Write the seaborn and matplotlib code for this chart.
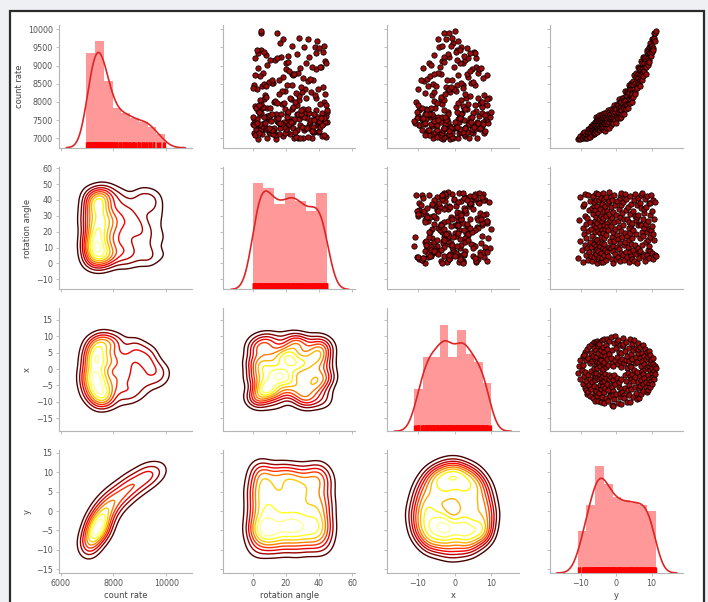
import numpy as np
import pandas as pd
import matplotlib
matplotlib.use("Agg")
import matplotlib.pyplot as plt
from matplotlib.patches import Rectangle
import seaborn as sns

# ---- measurements -------------------------------------------------------
x = [
    -1.2, 0.9, -3.1, 2.8, -0.3, -4.6, 3.9, 1.2, -2.2, -5.9, 5.1, -0.8, 2.6, -3.7, 4.4, -6.3,
    -7.5, 6.2, -1.9, -7.0, 3.3, -4.8, 7.0, -8.2, 1.7, -2.9, 5.0, -6.1, -0.6, 2.5, -3.8, 7.6,
    -8.9, 4.1, -5.3, 0.2, -1.5, 6.4, -7.2, 3.0, -2.5, 8.1,
    -9.6, -3.4, 1.1, 5.7, -6.7, -1.3, 3.6, 8.3, 8.6, 0.3, -8.1, 2.2, -2.6, 6.9, -5.6, 4.8,
    7.9, -9.8, 1.8, -3.1, 7.7, -7.3, 3.2, -1.9, -4.9, 0.9, 5.9, -10.1, -2.8, 2.7, -6.0, 8.9,
    -0.9, 4.3, -8.6, -3.9, 1.5, 6.6, -5.2, -2.0, 0.0,
    -10.4, -7.1, -3.6, 2.0, 5.3, 9.2, -1.4, -5.8, 3.9, -8.9, 0.6, 7.4, -2.7, -4.4, 2.9, 9.0,
    6.1, -9.7, -6.5, 1.3, -3.0, 8.6, 4.6, -1.8, -7.9, -8.1, -4.9, 3.4, -2.3, 9.7, -10.8, 5.8,
    -5.5, 1.8,
    -11.1, -6.8, -3.3, 0.8, -8.0, 7.9, -9.0, -1.7, 2.6, -4.6, 10.1, 6.5, -7.7, 8.3, 3.7, -2.6,
    -10.3, 8.8, 1.4, -5.4, 5.1, -3.8, -8.5, 2.3, -7.4, 7.2, -6.1, 0.5, 4.8,
    -10.6, -2.9, 3.1, -7.0, 6.9, 7.5, 9.5, -7.9, 1.9, -8.8, -1.9, 5.5, -5.7, 2.8, 8.1, -3.5,
    0.3, -9.9, 4.1, -6.4, -1.2, 6.3, 2.4, -4.8, -8.0, 9.0, -2.2, 1.0,
    -9.9, -3.0, 4.5, -6.2, 0.7, 7.6, -1.6, 2.9, -8.4, -3.6, 5.7, -0.2, 8.8, -5.5, 1.8, -2.5,
    3.8, -7.3, 6.5, -0.9, -9.1, 2.2, -3.8, 5.0, 6.0, -5.9, 7.9,
    -8.7, -2.1, 3.4, -5.2, 6.8, 0.9, -3.4, -7.6, 4.9, -0.7, 2.3, -4.6, 7.3, -1.5, -6.8, 1.6,
    4.1, -2.8, -0.1, 6.0, -5.6, 2.9, -3.9, 0.6, -7.1, 5.2,
    -6.4, -1.8, 3.7, -4.2, 0.8, 5.6, -2.9, 1.9, -5.5, -0.4, 4.3, -3.5, 2.6, -1.1, 0.4, -4.4,
    3.3, -2.3, 1.5, -0.7, -3.0, 0.9, -1.6, 0.2,
]

y = [
    -10.9, -10.6, -10.2, -10.1, -9.8, -9.5, -9.4, -9.3, -9.1, -8.9, -8.8, -8.7, -8.6, -8.6, -9.0, -8.55,
    -8.3, -8.2, -8.1, -8.0, -7.9, -7.8, -7.6, -7.4, -7.5, -7.3, -7.2, -7.1, -7.0, -6.9, -6.8, -6.7,
    -6.6, -6.5, -6.4, -6.4, -6.3, -6.2, -6.1, -6.1, -6.05, -6.3,
    -5.9, -5.9, -5.8, -5.8, -5.7, -5.7, -5.6, -5.6, -5.5, -5.5, -5.4, -5.3, -5.3, -5.2, -5.1, -5.1,
    -5.0, -5.0, -4.9, -4.9, -4.8, -4.8, -4.7, -4.6, -4.6, -4.5, -4.4, -4.4, -4.3, -4.3, -4.2, -4.1,
    -4.1, -4.0, -3.9, -3.9, -3.8, -3.8, -3.7, -3.7, -3.6,
    -3.5, -3.5, -3.4, -3.4, -3.3, -3.3, -3.2, -3.1, -3.1, -3.0, -3.0, -2.9, -2.8, -2.7, -2.6, -2.5,
    -2.5, -2.4, -2.3, -2.2, -2.1, -2.0, -1.9, -1.9, -1.8, -1.7, -1.6, -1.5, -1.4, -1.4, -1.3, -1.2,
    -1.2, -1.1,
    -0.9, -1.0, -0.9, -0.8, -0.8, -0.7, -0.5, -0.5, -0.4, -0.3, -0.2, -0.1, 0.0, 0.1, 0.2, 0.3,
    0.4, 0.5, 0.6, 0.7, 0.8, 0.9, 1.0, 1.0, 1.1, 1.2, 1.3, 1.3, 1.35,
    1.5, 1.5, 1.6, 1.7, 1.8, 1.9, 2.0, 2.1, 2.2, 2.3, 2.4, 2.5, 2.6, 2.7, 2.8, 2.9,
    3.0, 3.1, 3.2, 3.3, 3.4, 3.5, 3.6, 3.6, 3.7, 3.8, 3.8, 3.85,
    4.0, 4.1, 4.1, 4.2, 4.3, 4.4, 4.5, 4.6, 4.7, 4.8, 4.9, 5.0, 5.1, 5.2, 5.3, 5.4,
    5.5, 5.6, 5.7, 5.8, 5.9, 6.0, 6.1, 6.2, 6.3, 6.35, 6.3,
    6.5, 6.6, 6.6, 6.7, 6.8, 6.9, 7.0, 7.1, 7.2, 7.3, 7.4, 7.5, 7.5, 7.6, 7.7, 7.8,
    7.9, 8.0, 8.1, 8.2, 8.3, 8.4, 8.5, 8.6, 8.7, 8.8,
    9.0, 9.0, 9.1, 9.2, 9.3, 9.3, 9.4, 9.5, 9.6, 9.6, 9.7, 9.8, 9.9, 10.0, 10.1, 10.2,
    10.3, 10.4, 10.5, 10.6, 10.8, 10.9, 11.1, 11.3,
]

rotation_angle = [
    3.2, 27.5, 14.1, 41.8, 8.7, 22.4, 35.9, 0.6, 18.3, 30.2,
    11.5, 44.1, 5.4, 24.8, 37.2, 16.0, 9.9, 28.7, 2.1, 43.0,
    20.6, 33.4, 7.3, 13.7, 39.5, 26.1, 4.8, 21.9, 10.4, 35.0,
    1.5, 17.2, 30.9, 42.6, 36.2, 24.1, 12.3, 38.8, 27.0, 8.1,
    15.4, 3.9, 33.9, 19.8, 44.7, 11.0, 29.3, 5.7, 22.9, 40.3,
    9.2, 36.4, 0.3, 25.5, 14.8, 31.6, 7.8, 20.2, 43.6, 2.7,
    27.9, 12.9, 39.9, 4.2, 18.9, 34.5, 10.8, 23.3, 1.0, 30.0,
    16.7, 41.1, 6.7, 26.6, 13.1, 37.7, 3.5, 21.3, 9.4, 44.5,
    28.4, 0.9, 19.1, 32.8, 11.9, 24.5, 5.1, 40.8, 15.8, 36.1,
    8.4, 22.0, 2.4, 29.8, 42.0, 17.7, 7.0, 33.0, 25.2, 23.1,
    38.2, 4.5, 20.9, 10.1, 31.2, 39.4, 44.9, 14.4, 27.3, 41.6,
    23.7, 35.5, 9.7, 16.4, 3.0, 40.0, 28.9, 11.2, 19.6, 0.1,
    32.4, 7.6, 25.9, 43.3, 13.9, 5.9, 37.0, 21.6, 2.9, 30.6,
    10.6, 18.0, 39.2, 4.0, 26.9, 15.1, 8.9, 34.0, 23.0, 41.5,
    1.2, 29.1, 12.6, 36.8, 6.5, 20.5, 42.9, 44.6, 31.9, 16.9,
    5.0, 24.3, 38.5, 11.7, 27.7, 2.2, 19.4, 44.0, 13.4, 33.6,
    7.4, 40.6, 17.5, 3.7, 28.1, 10.3, 35.3, 22.6, 0.8, 14.6,
    26.3, 6.9, 42.3, 19.0, 31.4, 4.7, 12.2, 37.5, 24.0, 25.3,
    2.6, 15.7, 33.2, 8.2, 21.0, 39.7, 1.4, 29.6, 11.4, 43.8,
    18.6, 5.6, 27.1, 29.4, 36.6, 0.4, 23.9, 10.0, 41.2, 7.1,
    30.4, 3.4, 16.2, 25.0, 8.0, 38.0, 24.4, 43.4, 34.8, 20.0,
    11.8, 44.3, 6.1, 28.3, 17.0, 4.4, 32.0, 22.2, 34.3, 40.9,
    1.7, 24.7, 13.6, 35.7, 5.3, 19.9, 42.5, 8.5, 26.5, 15.0,
    37.9, 10.7, 3.1, 21.5, 30.8, 7.9, 16.6, 38.1, 43.1, 21.2,
    23.5, 6.6, 33.3, 40.2, 18.5, 2.8, 28.0, 14.9, 39.0, 5.2,
    4.9,
]

count_rate = [
    6985, 7020, 6980, 7065, 7005, 7105, 7015, 7140, 7065, 7020, 7155, 7040, 7110, 7015, 7175, 7105,
    7160, 7020, 7260, 7090, 7175, 7025, 7265, 7100, 7165, 7045, 7255, 7325, 7140, 7245, 7090, 7330,
    7215, 7405, 7170, 7290, 7115, 7375, 7220, 7275, 7445, 7150,
    7370, 7155, 7455, 7255, 7575, 7325, 7435, 7200, 7520, 7305, 7380, 7180, 7465, 7290, 7575, 7250,
    7445, 7355, 7525, 7220, 7405, 7650, 7300, 7455, 7215, 7530, 7365, 7600, 7295, 7505, 7425, 7665,
    7275, 7550, 7380, 7480, 7250, 7620, 7360, 7520, 7445,
    7545, 7235, 7455, 7685, 7320, 7430, 7210, 7615, 7385, 7535, 7305, 7685, 7390, 7590, 7285, 7535,
    7455, 7775, 7380, 7660, 7275, 7595, 7450, 7730, 7530, 7655, 7375, 7810, 7505, 7585, 7425, 7740,
    7480, 7670,
    7475, 7815, 7585, 7730, 7410, 7910, 7555, 7675, 7820, 7500, 7715, 7425, 7800, 7630, 7950, 7585,
    7725, 7915, 7555, 7825, 7700, 8080, 7560, 7880, 7765, 8005, 7680, 7860, 7575,
    7995, 7765, 8120, 7680, 7935, 7855, 8110, 7665, 8050, 7835, 8290, 7915, 8020, 7795, 8200, 7945,
    8300, 7915, 8155, 7830, 8270, 8115, 8460, 7980, 8260, 8085, 8405, 7965,
    8350, 8050, 8530, 8205, 8455, 8000, 8360, 8210, 8575, 8135, 8480, 8370, 8750, 8280, 8525, 8215,
    8695, 8445, 8795, 8420, 8610, 8380, 8760, 8550, 8960, 8490, 8670,
    8930, 8600, 8770, 8450, 8920, 8730, 9130, 8630, 8920, 8605, 9085, 8805, 8925, 9225, 8725, 9080,
    8840, 9250, 8970, 9205, 8765, 9160, 8950, 9420, 9075, 9365,
    9025, 9330, 9220, 9500, 9150, 9350, 9090, 9515, 9280, 9635, 9345, 9550, 9270, 9550, 9380, 9725,
    9485, 9745, 9425, 9760, 9890, 9680, 9910, 9960,
]

variables = ["count rate", "rotation angle", "x", "y"]

df = pd.DataFrame({
    "count rate": count_rate,
    "rotation angle": rotation_angle,
    "x": x,
    "y": y,
})

# ---- style --------------------------------------------------------------
sns.set_style("ticks")
plt.rcParams.update({
    "font.family": ["DejaVu Sans"],
    "axes.edgecolor": "#b5b5b5",
    "axes.linewidth": 0.8,
    "axes.labelsize": 6,
    "axes.labelcolor": "#444444",
    "xtick.labelsize": 5.8,
    "ytick.labelsize": 5.8,
    "xtick.color": "#b5b5b5",
    "ytick.color": "#b5b5b5",
    "xtick.labelcolor": "#555555",
    "ytick.labelcolor": "#555555",
    "xtick.major.size": 2.5,
    "ytick.major.size": 2.5,
    "xtick.major.width": 0.6,
    "ytick.major.width": 0.6,
})

diag_bins = {"count rate": 9, "rotation angle": 7, "x": 9, "y": 9}


def hist_kde_rug(values, color=None, label=None, **kws):
    ax = plt.gca()
    nbins = diag_bins.get(getattr(values, "name", None), 9)
    sns.histplot(x=values, bins=nbins, stat="density", color="red", alpha=0.4,
                 linewidth=0, ax=ax)
    sns.kdeplot(x=values, color="#dc2626", lw=1.2, cut=3, ax=ax)
    sns.rugplot(x=values, color="red", height=0.05, lw=0.9, ax=ax)


def red_scatter(x, y, color=None, label=None, **kws):
    plt.gca().scatter(x, y, s=15, facecolor="#9a0b0b", edgecolor="black",
                      linewidths=0.55, zorder=3)


def scott_bw(v):
    iqr = np.subtract(*np.percentile(v, [75, 25]))
    a = min(np.std(v, ddof=1), iqr / 1.349)
    return 1.059 * a * len(v) ** (-0.2)


def kde_contours(x, y, color=None, label=None, **kws):
    ax = plt.gca()
    xv = np.asarray(x, dtype=float)
    yv = np.asarray(y, dtype=float)
    bx, by = scott_bw(xv), scott_bw(yv)
    gx = np.linspace(xv.min() - 3 * bx, xv.max() + 3 * bx, 100)
    gy = np.linspace(yv.min() - 3 * by, yv.max() + 3 * by, 100)
    xx, yy = np.meshgrid(gx, gy)
    kx = np.exp(-0.5 * ((gx[:, None] - xv[None, :]) / bx) ** 2)
    ky = np.exp(-0.5 * ((gy[:, None] - yv[None, :]) / by) ** 2)
    z = ky @ kx.T / (len(xv) * 2 * np.pi * bx * by)
    ax.contour(xx, yy, z, 10, cmap="hot", linewidths=1.0)


g = sns.PairGrid(df, vars=variables, diag_sharey=False, height=1.6)
g.map_diag(hist_kde_rug)
g.map_upper(red_scatter)
g.map_lower(kde_contours)

fig = g.figure
fig.set_size_inches(7.08, 6.02)
fig.subplots_adjust(left=0.0833, right=0.9647, bottom=0.0482, top=0.9585,
                    wspace=0.235, hspace=0.155)

# axis ranges and ticks, one per variable
xlims = {"count rate": (5940, 10960), "rotation angle": (-18, 62),
         "x": (-18.6, 17.7), "y": (-18.6, 18.9)}
ylims = {"count rate": (6740, 10120), "rotation angle": (-16.5, 61),
         "x": (-18.9, 18.4), "y": (-16, 15.7)}
xticks = {"count rate": [6000, 8000, 10000], "rotation angle": [0, 20, 40, 60],
          "x": [-10, 0, 10], "y": [-10, 0, 10]}
yticks = {"count rate": list(range(7000, 10001, 500)),
          "rotation angle": list(range(-10, 61, 10)),
          "x": list(range(-15, 16, 5)), "y": list(range(-15, 16, 5))}

for j, var in enumerate(variables):
    ax = g.axes[-1, j]
    ax.set_xlim(*xlims[var])
    ax.set_xticks(xticks[var])
for i, var in enumerate(variables):
    ax = g.axes[i, 0]
    ax.set_ylim(*ylims[var])
    ax.set_yticks(yticks[var])

for ax in g.axes.flat:
    ax.tick_params(pad=2)
    ax.xaxis.labelpad = 2
    ax.yaxis.labelpad = 3

# page frame around the figure
fig.patch.set_facecolor("#eef0f3")
frame = Rectangle((9.5 / 708, -0.02), (703.5 - 9.5) / 708, 1.02 - 10.5 / 602,
                  transform=fig.transFigure, facecolor="white",
                  edgecolor="#2b2b2b", linewidth=1.6, zorder=-5)
fig.patches.append(frame)

fig.savefig("out.png", dpi=100, facecolor=fig.get_facecolor())
